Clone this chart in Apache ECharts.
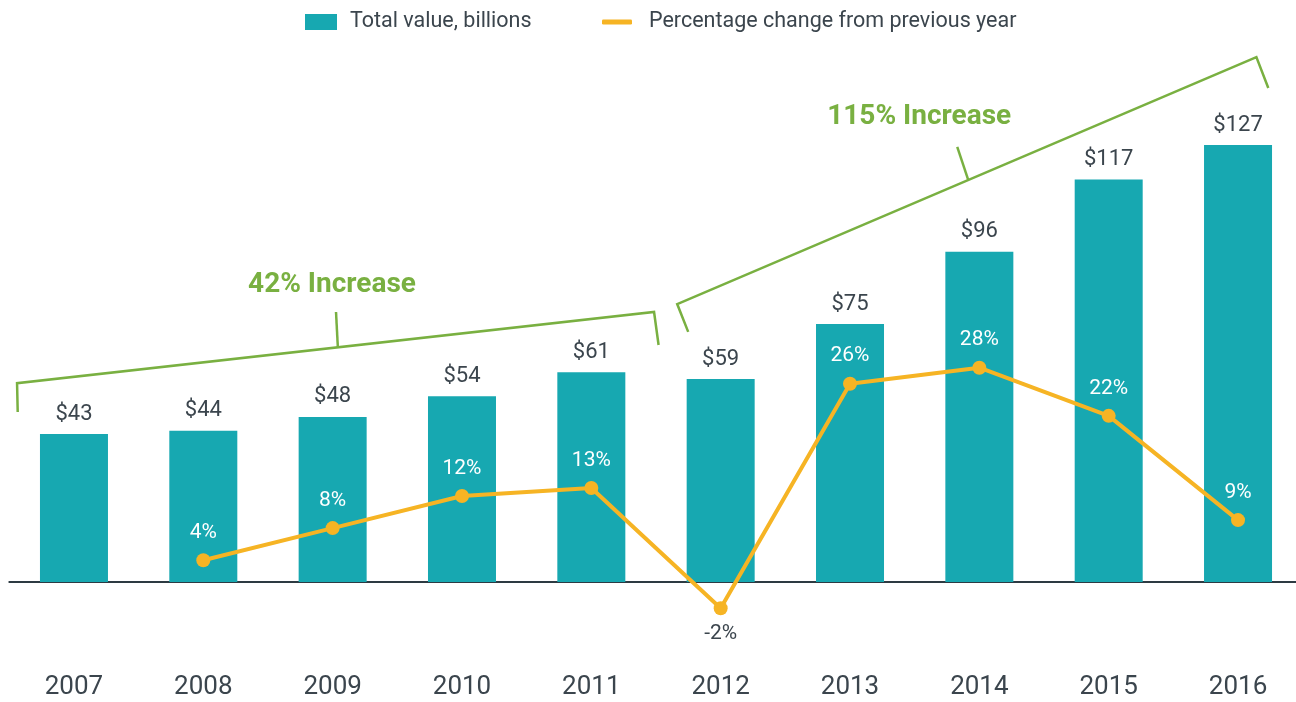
<!DOCTYPE html>
<html><head><meta charset="utf-8">
<script src="https://cdn.jsdelivr.net/npm/echarts@6/dist/echarts.min.js"></script>
<style>html,body{margin:0;padding:0;background:#fff}#c{width:1296px;height:702px}</style>
</head><body><div id="c"></div>
<script>
const years = ['2007','2008','2009','2010','2011','2012','2013','2014','2015','2016'];
const totalValue = [43,44,48,54,61,59,75,96,117,127];
const pctChange = [null,4,8,12,13,-2,26,28,22,9];
const seriesNames = ['Total value, billions','Percentage change from previous year'];
// annotations: [category position, bar value]
const bracket1 = [[-0.435,49.4],[-0.44,57.8],[4.485,78.5],[4.52,68.9]];
const tick1 = [[2.04,68.3],[2.026,78.5]];
const text1 = {t:'42% Increase', pos:[1.995,86.2]};
const bracket2 = [[4.749,72.7],[4.664,80.8],[9.142,152.6],[9.234,143.6]];
const tick2 = [[6.914,116.9],[6.829,126.5]];
const text2 = {t:'115% Increase', pos:[6.535,135.2]};

const TEAL='#17a8b1', ORANGE='#f6b424', GREEN='#79b041', TXT='#3b454d';
const FONT='Roboto';
const chart = echarts.init(document.getElementById('c'));
const lineData = pctChange.map(v=>{
  if(v===null) return null;
  if(v<0) return {value:v,label:{position:'bottom',distance:8,color:TXT}};
  return v;
});
chart.setOption({
  animation:false,
  textStyle:{fontFamily:FONT},
  legend:[
    {data:[seriesNames[0]], left:305, top:11, padding:0, itemWidth:32, itemHeight:16, icon:'rect',
     textStyle:{fontSize:21.5,color:TXT,fontFamily:FONT,padding:[0,0,0,8]}},
    {data:[seriesNames[1]], left:602, top:11, padding:0, itemWidth:30, itemHeight:5, icon:'roundRect',
     textStyle:{fontSize:21.5,color:TXT,fontFamily:FONT,padding:[0,0,0,12]}}
  ],
  grid:{left:9.3, width:1293.4, top:100.4, bottom:120, containLabel:false, outerBoundsMode:'none'},
  xAxis:{type:'category', data:years, boundaryGap:true,
    axisLine:{lineStyle:{color:'#2d3a42',width:2}}, axisTick:{show:false},
    axisLabel:{margin:92,fontSize:26,color:TXT,fontFamily:FONT}},
  yAxis:[
    {type:'value',min:0,max:140,show:false,splitLine:{show:false}},
    {type:'value',min:1.28,max:61.33,show:false,splitLine:{show:false}}
  ],
  series:[
    {name:seriesNames[0],type:'bar',data:totalValue,barWidth:68,yAxisIndex:0,
     itemStyle:{color:TEAL},
     label:{show:true,position:'top',distance:9,fontSize:22,color:TXT,fontFamily:FONT,
       formatter:p=>'$'+p.value}},
    {name:seriesNames[1],type:'line',data:lineData,yAxisIndex:1,clip:false,z:5,
     connectNulls:false,symbol:'circle',symbolSize:14,
     lineStyle:{color:ORANGE,width:4},itemStyle:{color:ORANGE},
     label:{show:true,position:'top',distance:10,fontSize:21,color:'#ffffff',fontFamily:FONT,
       formatter:p=>p.value+'%'}}
  ]
});

function px(p){
  const a = chart.convertToPixel({xAxisIndex:0,yAxisIndex:0},[0,p[1]]);
  const b = chart.convertToPixel({xAxisIndex:0,yAxisIndex:0},[1,p[1]]);
  return [a[0]+(b[0]-a[0])*p[0], a[1]];
}
const g=[];
function poly(pts){g.push({type:'polyline',z:10,shape:{points:pts.map(px)},style:{stroke:GREEN,lineWidth:2.5,fill:null,lineJoin:'miter'}});}
function txt(o){const p=px(o.pos);g.push({type:'text',z:10,x:p[0],y:p[1],style:{text:o.t,fill:GREEN,font:'bold 28px '+FONT,textAlign:'center',textVerticalAlign:'middle'}});}
poly(bracket1);poly(tick1);txt(text1);
poly(bracket2);poly(tick2);txt(text2);
chart.setOption({graphic:g});
</script></body></html>
